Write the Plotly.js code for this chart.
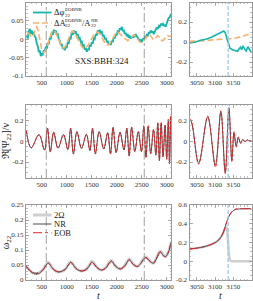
<!DOCTYPE html>
<html>
<head>
<meta charset="utf-8">
<script src="https://cdn.plot.ly/plotly-3.0.1.min.js"></script>
<style>html,body{margin:0;padding:0;background:#fff;}#chart{width:253px;height:301px;}</style>
</head>
<body>
<div id="chart"></div>
<script>
// ---------- data ----------
// top-left: phase difference (teal) and relative amplitude difference (orange)
const tPhi = [200,220,240,260,280,300,320,340,360,380,400,420,440,460,480,500,520,540,560,580,600,620,640,660,680,700,720,740,760,780,800,820,840,860,880,900,920,940,960,980,1000,1020,1040,1060,1080,1100,1120,1140,1160,1180,1200,1220,1240,1260,1280,1300,1320,1340,1360,1380,1400,1420,1440,1460,1480,1500,1520,1540,1560,1580,1600,1620,1640,1660,1680,1700,1720,1740,1760,1780,1800,1820,1840,1860,1880,1900,1920,1940,1960,1980,2000,2020,2040,2060,2080,2100,2120,2140,2160,2180,2200,2220,2240,2260,2280,2300,2320,2340,2360,2380,2400,2420,2440,2460,2480,2500,2520,2540,2560,2580,2600,2620,2640,2660,2680,2700,2720,2740,2760,2780,2800,2820,2840,2860,2880,2900,2920,2940,2960,2980,3000,3020,3040,3060,3080];
const dPhi = [0.010,0.002,0.022,0.028,0.015,0.024,0.012,0.020,0.008,0.004,-0.012,-0.018,-0.035,-0.030,-0.046,-0.038,-0.044,-0.030,-0.034,-0.020,-0.026,-0.010,-0.014,0.004,0.000,0.018,0.012,0.026,0.018,0.024,0.012,0.014,0.000,-0.004,-0.016,-0.012,-0.026,-0.022,-0.030,-0.020,-0.024,-0.008,-0.012,0.004,0.002,0.018,0.012,0.024,0.016,0.022,0.010,0.014,0.002,0.004,-0.008,-0.006,-0.018,-0.016,-0.028,-0.024,-0.034,-0.026,-0.030,-0.016,-0.020,-0.008,-0.012,0.002,0.000,0.014,0.010,0.024,0.018,0.026,0.018,0.020,0.008,0.012,0.000,0.004,-0.008,-0.004,-0.014,-0.010,-0.016,-0.004,-0.008,0.006,0.002,0.014,0.010,0.024,0.018,0.030,0.026,0.034,0.022,0.026,0.014,0.018,0.008,0.014,0.004,0.010,0.002,0.008,0.004,0.012,0.006,0.014,0.008,0.004,0.000,-0.004,-0.002,-0.008,0.000,-0.002,0.006,0.004,0.012,0.010,0.020,0.016,0.024,0.018,0.022,0.014,0.020,0.026,0.032,0.028,0.036,0.034,0.042,0.038,0.044,0.036,0.040,0.034,0.046,0.052,0.058,0.060,0.068];
const tAmp = [200,250,300,340,370,400,430,460,500,540,580,620,660,700,740,780,820,860,900,940,980,1020,1060,1100,1140,1180,1220,1260,1300,1340,1380,1420,1460,1500,1540,1580,1620,1660,1700,1740,1780,1820,1860,1900,1940,1980,2020,2060,2100,2140,2180,2220,2260,2300,2340,2380,2420,2460,2500,2540,2580,2620,2660,2700,2740,2780,2820,2860,2900,2940,2980,3020,3060,3080];
const dAmp = [0.018,0.015,0.005,0.012,0.030,0.034,0.022,-0.005,-0.028,-0.036,-0.030,-0.015,0.005,0.020,0.024,0.018,0.005,-0.010,-0.020,-0.024,-0.018,-0.004,0.012,0.022,0.020,0.012,0.000,-0.012,-0.020,-0.026,-0.022,-0.018,-0.008,0.004,0.012,0.018,0.020,0.014,0.004,-0.006,-0.014,-0.016,-0.012,-0.002,0.008,0.016,0.020,0.016,0.010,0.004,0.000,-0.004,0.002,0.008,0.012,0.008,0.000,-0.008,-0.010,-0.004,0.004,0.010,0.012,0.006,-0.002,0.004,0.010,0.006,-0.004,-0.002,0.006,0.010,0.008,0.006];
// top-right: merger zoom
const tPhiR = [3030,3045,3060,3075,3090,3105,3115,3124,3128,3132,3136,3141,3148,3155,3162,3166,3170,3173,3177,3181,3185,3190,3195,3200];
const dPhiR = [-0.010,-0.002,0.018,0.028,0.048,0.073,0.093,0.110,0.093,0.043,-0.017,-0.062,-0.077,-0.082,-0.092,-0.067,-0.052,-0.077,-0.037,-0.072,-0.090,-0.047,-0.077,-0.105];
const tAmpR = [3030,3070,3100,3140,3160,3180,3200];
const dAmpR = [0.006,0.014,0.023,0.033,0.043,0.063,0.088];
// middle: Re[Psi22]/nu extrema
const tWave = [190,288,445,556,615,671,738,825,935,1022,1078,1133,1203,1295,1393,1463,1516,1572,1648,1740,1818,1875,1926,1988,2066,2144,2201,2248,2298,2361,2431,2494,2542,2584,2628,2679,2735,2783,2820,2853,2888,2926,2966,2999,3032,3055,3080,3101,3116,3128,3138,3146,3152,3158,3164,3170,3176,3182,3188,3194,3200];
const nrWave = [0.10,-0.065,0.062,-0.085,0.12,-0.10,0.085,-0.068,0.062,-0.08,0.12,-0.12,0.09,-0.07,0.065,-0.09,0.12,-0.12,0.09,-0.075,0.08,-0.12,0.13,-0.11,0.085,-0.085,0.12,-0.14,0.13,-0.10,0.09,-0.10,0.14,-0.15,0.14,-0.12,0.11,-0.13,0.17,-0.18,0.17,-0.15,0.15,-0.17,0.20,-0.21,0.23,-0.23,0.28,-0.30,0.32,-0.18,0.08,-0.05,0.035,-0.02,0.015,-0.005,0.012,0.0,0.006];
const eobWave = [0.10,-0.065,0.062,-0.085,0.125,-0.105,0.085,-0.068,0.062,-0.08,0.125,-0.125,0.09,-0.07,0.065,-0.09,0.125,-0.125,0.09,-0.075,0.08,-0.125,0.135,-0.11,0.085,-0.085,0.125,-0.145,0.135,-0.10,0.09,-0.10,0.15,-0.16,0.15,-0.12,0.11,-0.135,0.18,-0.19,0.18,-0.15,0.155,-0.175,0.21,-0.22,0.24,-0.25,0.29,-0.31,0.31,-0.20,0.09,-0.06,0.04,-0.025,0.015,-0.01,0.01,0.0,0.005];
// bottom: omega22
const tOmega = [186,250,300,320,340,360,380,400,420,440,470,530,580,620,650,700,760,833,900,980,1040,1080,1110,1160,1220,1300,1380,1450,1500,1530,1580,1640,1700,1780,1840,1887,1915,1970,2067,2150,2210,2247,2275,2330,2413,2480,2540,2587,2620,2680,2733,2790,2840,2867,2895,2940,2980,3020,3050,3085];
const nrOmega = [0.046,0.033,0.027,0.022,0.026,0.019,0.024,0.018,0.025,0.021,0.025,0.035,0.048,0.056,0.054,0.042,0.032,0.027,0.029,0.037,0.052,0.059,0.055,0.043,0.034,0.030,0.034,0.047,0.060,0.057,0.046,0.037,0.033,0.040,0.054,0.063,0.060,0.047,0.037,0.045,0.060,0.068,0.064,0.052,0.045,0.055,0.070,0.075,0.070,0.060,0.056,0.070,0.088,0.094,0.090,0.080,0.078,0.088,0.100,0.125];
const eobOmega = [0.046,0.033,0.026,0.024,0.023,0.022,0.022,0.022,0.022,0.023,0.025,0.035,0.048,0.056,0.054,0.042,0.032,0.027,0.029,0.037,0.052,0.059,0.055,0.043,0.034,0.030,0.034,0.047,0.060,0.057,0.046,0.037,0.033,0.040,0.054,0.063,0.060,0.047,0.037,0.045,0.060,0.068,0.064,0.052,0.045,0.055,0.070,0.075,0.070,0.060,0.056,0.070,0.088,0.094,0.090,0.080,0.078,0.088,0.100,0.125];
const twoOmega = [0.047,0.034,0.026,0.024,0.023,0.022,0.022,0.022,0.022,0.023,0.026,0.036,0.050,0.058,0.056,0.043,0.032,0.027,0.029,0.038,0.054,0.061,0.057,0.044,0.034,0.030,0.034,0.048,0.062,0.059,0.047,0.037,0.033,0.041,0.056,0.065,0.062,0.048,0.037,0.046,0.062,0.070,0.066,0.053,0.045,0.056,0.072,0.077,0.072,0.061,0.056,0.072,0.090,0.096,0.092,0.081,0.078,0.089,0.101,0.126];
const tOmegaR = [3030,3050,3070,3090,3105,3115,3122,3128,3133,3138,3145,3152,3160,3175,3200];
const nrOmegaR = [0.13,0.14,0.155,0.18,0.21,0.25,0.30,0.37,0.43,0.48,0.52,0.545,0.555,0.56,0.56];
const eobOmegaR = [0.13,0.14,0.155,0.18,0.21,0.25,0.30,0.37,0.43,0.48,0.525,0.55,0.56,0.56,0.56];
const tTwoOmegaR = [3030,3050,3070,3090,3105,3115,3122,3128,3132,3135,3138,3141,3145,3160,3200];
const twoOmegaR = [0.13,0.14,0.155,0.18,0.21,0.25,0.30,0.35,0.36,0.25,0.08,0.01,0.0,0.0,0.0];
// vertical markers
const tWindow = [590, 2550];
const tPeak = [3136];
// legend labels
const legTop = [['Δφ', 'EOBNR', '22', '', '', ''], ['ΔA', 'EOBNR', '22', '/A', 'NR', '22']];
const legBottom = ['2Ω', 'NR', 'EOB'];

// ---------- styling ----------
const serif = 'Liberation Serif, "Times New Roman", serif';
const C = {teal:'#15b5ad', orange:'#f8b26c', nr:'#4a4a4a', eob:'#e3262b', two:'#cfcfcf', win:'#8a8a8a', peak:'#9ccbee', axis:'#9a9a9a'};
const W = 253, H = 301;
const px = v => v / W, py = v => 1 - v / H;

const tr = [];
tr.push({x:tPhi, y:dPhi, xaxis:'x', yaxis:'y', mode:'lines', line:{color:C.teal, width:1.8}});
tr.push({x:tAmp, y:dAmp, xaxis:'x', yaxis:'y', mode:'lines', line:{color:C.orange, width:1.6, dash:'6px,3px'}});
tr.push({x:tAmpR, y:dAmpR, xaxis:'x2', yaxis:'y2', mode:'lines', line:{color:C.orange, width:1.6, dash:'6px,3px', shape:'spline'}});
tr.push({x:tPhiR, y:dPhiR, xaxis:'x2', yaxis:'y2', mode:'lines', line:{color:C.teal, width:1.6}});
tr.push({x:tWave, y:nrWave, xaxis:'x3', yaxis:'y3', mode:'lines', line:{color:C.nr, width:1, shape:'spline', smoothing:1}});
tr.push({x:tWave, y:eobWave, xaxis:'x3', yaxis:'y3', mode:'lines', line:{color:C.eob, width:1, dash:'3px,1.5px', shape:'spline', smoothing:1}});
tr.push({x:tWave, y:nrWave, xaxis:'x4', yaxis:'y4', mode:'lines', line:{color:C.nr, width:1, shape:'spline', smoothing:1}});
tr.push({x:tWave, y:eobWave, xaxis:'x4', yaxis:'y4', mode:'lines', line:{color:C.eob, width:1, dash:'3px,1.5px', shape:'spline', smoothing:1}});
tr.push({x:tOmega, y:twoOmega, xaxis:'x5', yaxis:'y5', mode:'lines', line:{color:C.two, width:3, shape:'spline', smoothing:0.8}});
tr.push({x:tOmega, y:nrOmega, xaxis:'x5', yaxis:'y5', mode:'lines', line:{color:C.nr, width:1, shape:'spline', smoothing:0.8}});
tr.push({x:tOmega, y:eobOmega, xaxis:'x5', yaxis:'y5', mode:'lines', line:{color:C.eob, width:1, dash:'dashdot', shape:'spline', smoothing:0.8}});
tr.push({x:tTwoOmegaR, y:twoOmegaR, xaxis:'x6', yaxis:'y6', mode:'lines', line:{color:C.two, width:2.5, shape:'spline', smoothing:0.6}});
tr.push({x:tOmegaR, y:nrOmegaR, xaxis:'x6', yaxis:'y6', mode:'lines', line:{color:C.nr, width:1, shape:'spline', smoothing:0.8}});
tr.push({x:tOmegaR, y:eobOmegaR, xaxis:'x6', yaxis:'y6', mode:'lines', line:{color:C.eob, width:1, dash:'dashdot', shape:'spline', smoothing:0.8}});
tr.forEach(t => t.showlegend = false);

const domL = [26/W, 171/W], domR = [189.5/W, 251.5/W];
const domT = [1-76/H, 1-2.5/H], domM = [1-177.7/H, 1-104.5/H], domB = [1-280/H, 1-205/H];
function ax(extra){
  return Object.assign({showline:true, mirror:'allticks', linecolor:C.axis, linewidth:1,
    ticks:'inside', ticklen:3, tickcolor:C.axis, tickwidth:0.8,
    tickfont:{family:serif, size:7, color:'#333'}, showgrid:false, zeroline:false, fixedrange:true}, extra);
}
const mn = d => ({ticks:'inside', ticklen:1.5, tickcolor:C.axis, tickwidth:0.6, dtick:d});
const xL = {range:[185,3085], tickvals:[500,1000,1500,2000,2500,3000], ticktext:['500','1000','1500','2000','2500','3000'], minor:mn(100)};
const xR = {range:[3030,3200], tickvals:[3050,3100,3150], ticktext:['3050','3100','3150'], minor:mn(10)};
const tFont = {family:serif, size:10, color:'#222'};
const layout = {
  width:W, height:H, margin:{l:0,r:0,t:0,b:0}, paper_bgcolor:'#fff', plot_bgcolor:'#fff',
  font:{family:serif, size:8, color:'#222'}, showlegend:false,
  xaxis: ax(Object.assign({domain:domL, anchor:'y'}, xL)),
  yaxis: ax({domain:domT, anchor:'x', range:[-0.1,0.1], tickvals:[-0.1,-0.05,0,0.05,0.1], ticktext:['-0.1','-0.05','0','0.05','0.1'], minor:mn(0.01)}),
  xaxis2: ax(Object.assign({domain:domR, anchor:'y2'}, xR)),
  yaxis2: ax({domain:domT, anchor:'x2', range:[-0.34,0.395], tickvals:[-0.2,0,0.2,0.4], ticktext:['-0.2','0','0.2','0.4'], minor:mn(0.05)}),
  xaxis3: ax(Object.assign({domain:domL, anchor:'y3'}, xL)),
  yaxis3: ax({domain:domM, anchor:'x3', range:[-0.35,0.35], tickvals:[-0.2,0,0.2], ticktext:['-0.2','0','0.2'], minor:mn(0.05),
    title:{text:'ℜ[Ψ<sub>22</sub>]/ν', font:tFont, standoff:5}}),
  xaxis4: ax(Object.assign({domain:domR, anchor:'y4'}, xR)),
  yaxis4: ax({domain:domM, anchor:'x4', range:[-0.35,0.35], tickvals:[-0.2,0,0.2], ticktext:['-0.2','0','0.2'], minor:mn(0.05)}),
  xaxis5: ax(Object.assign({domain:domL, anchor:'y5', title:{text:'<i>t</i>', font:tFont, standoff:2}}, xL)),
  yaxis5: ax({domain:domB, anchor:'x5', range:[0,0.25], tickvals:[0,0.05,0.1,0.15,0.2,0.25], ticktext:['0','0.05','0.1','0.15','0.2','0.25'], minor:mn(0.01),
    title:{text:'ω<sub>22</sub>', font:tFont, standoff:5}}),
  xaxis6: ax(Object.assign({domain:domR, anchor:'y6', title:{text:'<i>t</i>', font:tFont, standoff:2}}, xR)),
  yaxis6: ax({domain:domB, anchor:'x6', range:[-0.2,0.6], tickvals:[-0.2,0,0.2,0.4,0.6], ticktext:['-0.2','0','0.2','0.4','0.6'], minor:mn(0.05)}),
  annotations:[{xref:'x', yref:'y', x:1700, y:-0.059, text:'SXS:BBH:324', showarrow:false, font:{family:serif, size:9, color:'#222'}}],
  shapes:[]
};
['x','x3','x5'].forEach(xr => tWindow.forEach(t => layout.shapes.push({type:'line', xref:xr, yref:(xr==='x'?'y':'y'+xr.slice(1))+' domain', x0:t, x1:t, y0:0, y1:1, line:{color:C.win, width:0.8, dash:'dashdot'}})));
['x2','x4','x6'].forEach(xr => tPeak.forEach(t => layout.shapes.push({type:'line', xref:xr, yref:'y'+xr.slice(1)+' domain', x0:t, x1:t, y0:0, y1:1, layer:'above', line:{color:C.peak, width:1.3, dash:'4px,2px'}})));

// ----- hand-built legends (stacked sub/superscripts) -----
const A = layout.annotations, S = layout.shapes;
function txt(x, y, s, size){ A.push({xref:'paper', yref:'paper', x:px(x), y:py(y), xanchor:'left', yanchor:'middle', borderpad:0, text:s, showarrow:false, font:{family:serif, size:size, color:'#222'}}); }
function key(y, style){ S.push({type:'line', xref:'paper', yref:'paper', x0:px(33), x1:px(51.5), y0:py(y), y1:py(y), line:style}); }
const topStyles = [{color:C.teal, width:1.8}, {color:C.orange, width:1.6, dash:'6px,3px'}];
[12.5, 23].forEach((y, i) => {
  const L = legTop[i];
  key(y, topStyles[i]);
  txt(52.5, y, L[0], 8.5);
  txt(64, y - 2.9, L[1], 5);
  txt(64, y + 2.6, L[2], 5);
  if (L[3]) { txt(80.5, y, L[3], 8.5); txt(90, y - 2.9, L[4], 5); txt(90, y + 2.6, L[5], 5); }
});
const botStyles = [{color:C.two, width:3}, {color:C.nr, width:1}, {color:C.eob, width:1, dash:'dashdot'}];
[215, 224, 232.7].forEach((y, i) => { key(y, botStyles[i]); txt(53, y, legBottom[i], 8.5); });

Plotly.newPlot('chart', tr, layout, {staticPlot:true, displayModeBar:false});
</script>
</body>
</html>
